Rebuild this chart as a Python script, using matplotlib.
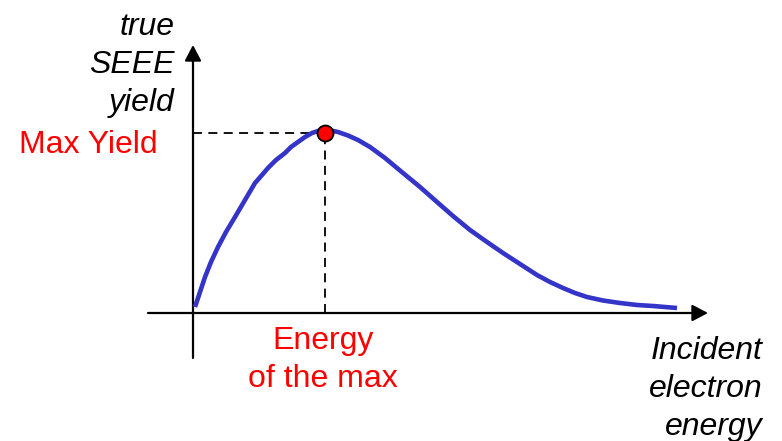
import matplotlib
matplotlib.use("Agg")
import matplotlib.pyplot as plt

plt.rcParams['font.family'] = ['Liberation Sans', 'DejaVu Sans']

# curve (arbitrary units)
energy = [0.04, 0.14, 0.24, 0.36, 0.50, 0.66, 0.84, 1.04, 1.24, 1.38, 1.50,
          1.66, 1.84, 1.96, 2.10, 2.24, 2.38, 2.50, 2.64, 2.76, 2.90, 3.10,
          3.30, 3.54, 3.84, 4.20, 4.54, 4.88, 5.20, 5.54, 5.88, 6.20, 6.54,
          6.88, 7.14, 7.40, 7.64, 7.88, 8.20, 8.54, 8.88, 9.20, 9.44, 9.68]
yield_ = [0.06, 0.21, 0.36, 0.51, 0.66, 0.81, 0.96, 1.13, 1.30, 1.38, 1.45,
          1.53, 1.60, 1.66, 1.71, 1.76, 1.80, 1.82, 1.83, 1.825, 1.81, 1.775,
          1.73, 1.66, 1.55, 1.40, 1.26, 1.11, 0.97, 0.83, 0.71, 0.60, 0.49,
          0.38, 0.31, 0.25, 0.20, 0.16, 0.125, 0.10, 0.08, 0.07, 0.06, 0.05]
max_energy = 2.64
max_yield = 1.80

fig = plt.figure(figsize=(7.82, 4.41), dpi=100)
ax = fig.add_axes([0, 0, 1, 1])
ax.set_xlim(-3.86, 11.78)
ax.set_ylim(-1.28, 3.13)
ax.axis('off')

# axes with arrows
arrow = dict(arrowstyle='-|>,head_length=0.95,head_width=0.5', color='black',
             lw=1.6, shrinkA=0, shrinkB=0)
ax.annotate('', xy=(0, 2.68), xytext=(0, -0.45), arrowprops=arrow)
ax.annotate('', xy=(10.3, 0), xytext=(-0.9, 0), arrowprops=arrow)

# dashed guides to the maximum
ax.plot([0, max_energy], [max_yield, max_yield], color='black', lw=1.3,
        ls=(0, (5, 3.5)))
ax.plot([max_energy, max_energy], [0, max_yield], color='black', lw=1.3,
        ls=(0, (5, 3.5)))

ax.plot(energy, yield_, color='#3434c8', lw=3.3, solid_capstyle='butt',
        solid_joinstyle='round', zorder=3)
ax.plot([max_energy], [max_yield], 'o', ms=11.5, mfc='#ff0000', mec='black',
        mew=1.3, zorder=4)

# labels (va='baseline' anchors the last line)
ax.text(-0.36, 2.02, 'true\nSEEE\nyield', ha='right', va='baseline',
        fontsize=23, style='italic', linespacing=1.34)
ax.text(-0.70, 1.60, 'Max Yield', ha='right', va='baseline', fontsize=23,
        color='#ff0000')
ax.text(2.6, -0.74, 'Energy\nof the max', ha='center', va='baseline',
        fontsize=23, color='#ff0000', linespacing=1.34)
ax.text(11.4, -1.22, 'Incident\nelectron\nenergy', ha='right', va='baseline',
        fontsize=23, style='italic', linespacing=1.34)

fig.savefig('out.png', dpi=100)
